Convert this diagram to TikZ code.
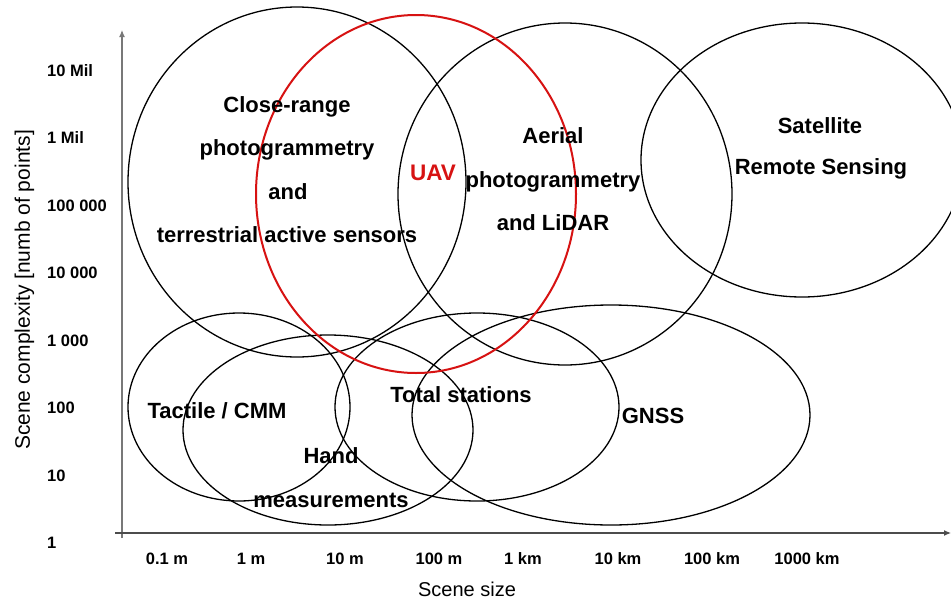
\documentclass[tikz,border=0pt]{standalone}
\usepackage{fontspec}
\setmainfont{Liberation Sans}
\usetikzlibrary{arrows.meta}
\definecolor{uavred}{RGB}{215,18,18}
\definecolor{axisgray}{RGB}{120,120,120}
\begin{document}
\begin{tikzpicture}[x=1pt,y=-1pt,
  ticklab/.style={inner sep=0pt,font=\fontsize{16.5}{18}\selectfont\bfseries},
  xlab/.style={ticklab,anchor=base},
  ylab/.style={ticklab,anchor=west},
  area/.style={inner sep=0pt,anchor=base,font=\fontsize{22}{24}\selectfont\bfseries},
  axtitle/.style={inner sep=0pt,anchor=base,font=\fontsize{20}{22}\selectfont},
  ring/.style={draw=black,line width=1.3pt},
  redring/.style={draw=uavred,line width=2pt}]
\useasboundingbox (0,0) rectangle (951,600);
\clip (0,0) rectangle (951,600);
\fill[white] (0,0) rectangle (951,600);

% axes
\draw[axisgray,line width=1.1pt,-{Latex[length=7pt,width=6pt]}] (122,538) -- (122,30);
\draw[black!70,line width=1.2pt,-{Latex[length=7pt,width=6pt]}] (115,533) -- (951,533);

% y tick labels
\node[ylab] (y1) at (47,71) {10 Mil};
\node[ylab] (y2) at (47,138) {1 Mil};
\node[ylab] (y3) at (47,206) {100 000};
\node[ylab] (y4) at (47,273) {10 000};
\node[ylab] (y5) at (47,341) {1 000};
\node[ylab] (y6) at (47,408) {100};
\node[ylab] (y7) at (47,476) {10};
\node[ylab] (y8) at (47,543) {1};

% x tick labels
\node[xlab] (x1) at (167,564) {0.1 m};
\node[xlab] (x2) at (251,564) {1 m};
\node[xlab] (x3) at (345,564) {10 m};
\node[xlab] (x4) at (439,564) {100 m};
\node[xlab] (x5) at (523,564) {1 km};
\node[xlab] (x6) at (618,564) {10 km};
\node[xlab] (x7) at (712,564) {100 km};
\node[xlab] (x8) at (807,564) {1000 km};

% axis titles
\node[axtitle] (xt) at (467,596) {Scene size};
\node[axtitle,rotate=90,font=\fontsize{21}{23}\selectfont] (yt) at (30,290) {Scene complexity [numb of points]};

% ellipses
\draw[ring] (297,182) ellipse [x radius=169pt, y radius=175pt];
\draw[ring] (565,194) ellipse [x radius=167pt, y radius=171pt];
\draw[ring] (802,160) ellipse [x radius=161pt, y radius=137pt];
\draw[ring] (239,407) ellipse [x radius=111pt, y radius=94pt];
\draw[ring] (328,430) ellipse [x radius=145pt, y radius=95pt];
\draw[ring] (477,407) ellipse [x radius=142pt, y radius=94pt];
\draw[ring] (611,415) ellipse [x radius=199pt, y radius=110pt];
\draw[redring] (416,194) ellipse [x radius=160pt, y radius=179pt];

% area labels
\node[area] (cr1) at (287,112) {Close-range};
\node[area] (cr2) at (287,155) {photogrammetry};
\node[area] (cr3) at (288,199) {and};
\node[area] (cr4) at (287,242) {terrestrial active sensors};
\node[area,text=uavred,font=\fontsize{22.5}{24}\selectfont\bfseries] (uav) at (433,180) {UAV};
\node[area] (ae1) at (553,143) {Aerial};
\node[area] (ae2) at (553,187) {photogrammetry};
\node[area] (ae3) at (553,230) {and LiDAR};
\node[area] (sa1) at (820,133) {Satellite};
\node[area] (sa2) at (821,174) {Remote Sensing};
\node[area] (tac) at (217,418) {Tactile / CMM};
\node[area] (tot) at (461,402) {Total stations};
\node[area] (ha1) at (331,463) {Hand};
\node[area] (ha2) at (331,507) {measurements};
\node[area] (gns) at (653,423) {GNSS};
\end{tikzpicture}
\end{document}
